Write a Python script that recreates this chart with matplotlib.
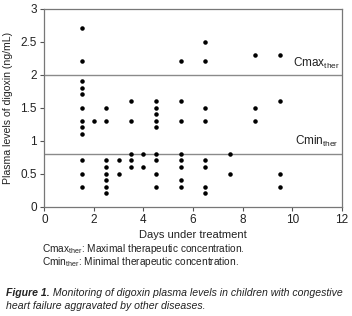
import matplotlib
matplotlib.use("Agg")
from matplotlib import pyplot as plt

# digoxin levels, one column of points per day
days = [1.5] * 12 + [2.0] + [2.5] * 8 + [3.0] * 2 + [3.5] * 5 + [4.0] * 2 \
    + [4.5] * 9 + [5.5] * 8 + [6.5] * 8 + [7.5] * 2 + [8.5] * 3 + [9.5] * 4
levels = [2.7, 2.2, 1.9, 1.8, 1.7, 1.5, 1.3, 1.2, 1.1, 0.7, 0.5, 0.3,
          1.3,
          1.5, 1.3, 0.7, 0.6, 0.5, 0.4, 0.3, 0.2,
          0.7, 0.5,
          1.6, 1.3, 0.8, 0.7, 0.6,
          0.8, 0.6,
          1.6, 1.5, 1.4, 1.3, 1.2, 0.8, 0.7, 0.5, 0.3,
          2.2, 1.6, 1.3, 0.8, 0.7, 0.6, 0.4, 0.3,
          2.5, 2.2, 1.5, 1.3, 0.7, 0.6, 0.3, 0.2,
          0.8, 0.5,
          2.3, 1.5, 1.3,
          2.3, 1.6, 0.5, 0.3]

cmax = 2.0
cmin = 0.8
yticks = [0, 0.5, 1, 1.5, 2, 2.5, 3]
ytick_labels = ["0", "0.5", "1", "1.5", "2", "2.5", "3"]
xticks = [0, 2, 4, 6, 8, 10, 12]

plt.rcParams['font.family'] = ['Liberation Sans', 'DejaVu Sans']
plt.rcParams['mathtext.default'] = 'regular'
ink = '#222222'

fig = plt.figure(figsize=(3.52, 3.16), dpi=100)
ax = fig.add_axes([0.126, 0.346, 0.845, 0.627])

ax.scatter(days, levels, s=5, color='black', zorder=3)
ax.axhline(cmax, color='#8a8a8a', lw=1.0)
ax.axhline(cmin, color='#8a8a8a', lw=1.0)

ax.text(11.92, 2.17, r'Cmax$_{ther}$', ha='right', va='center', fontsize=8.5, color=ink)
ax.text(11.88, 0.99, r'Cmin$_{ther}$', ha='right', va='center', fontsize=8.5, color=ink)

ax.set_xlim(0, 12)
ax.set_ylim(0, 3)
ax.set_xticks(xticks)
ax.set_yticks(yticks)
ax.set_yticklabels(ytick_labels)
ax.tick_params(labelsize=8.5, length=3, width=0.8, color='#555555', labelcolor=ink, pad=2.5)
for sp in ax.spines.values():
    sp.set_color('#777777')
    sp.set_linewidth(0.9)

ax.set_xlabel('Days under treatment', fontsize=8, color=ink, labelpad=3)
ax.set_ylabel('Plasma levels of digoxin (ng/mL)', fontsize=7.6, color=ink, labelpad=5)

# notes under the chart
fig.text(42 / 352, 1 - 249 / 316, r'Cmax$_{ther}$: Maximal therapeutic concentration.',
         fontsize=7.3, va='center', color=ink)
fig.text(42 / 352, 1 - 262 / 316, r'Cmin$_{ther}$: Minimal therapeutic concentration.',
         fontsize=7.3, va='center', color=ink)

# caption, bold "Figure 1." followed by italic text
t1 = fig.text(6 / 352, 1 - 293 / 316, 'Figure 1.', fontsize=7.6, style='italic',
              weight='bold', va='center', color=ink)
ax.annotate(' Monitoring of digoxin plasma levels in children with congestive',
            xy=(1, 0.5), xycoords=t1, va='center', ha='left',
            fontsize=7.6, style='italic', color=ink, annotation_clip=False)
fig.text(6 / 352, 1 - 306 / 316, 'heart failure aggravated by other diseases.',
         fontsize=7.6, style='italic', va='center', color=ink)

fig.savefig('out.png', dpi=100)
